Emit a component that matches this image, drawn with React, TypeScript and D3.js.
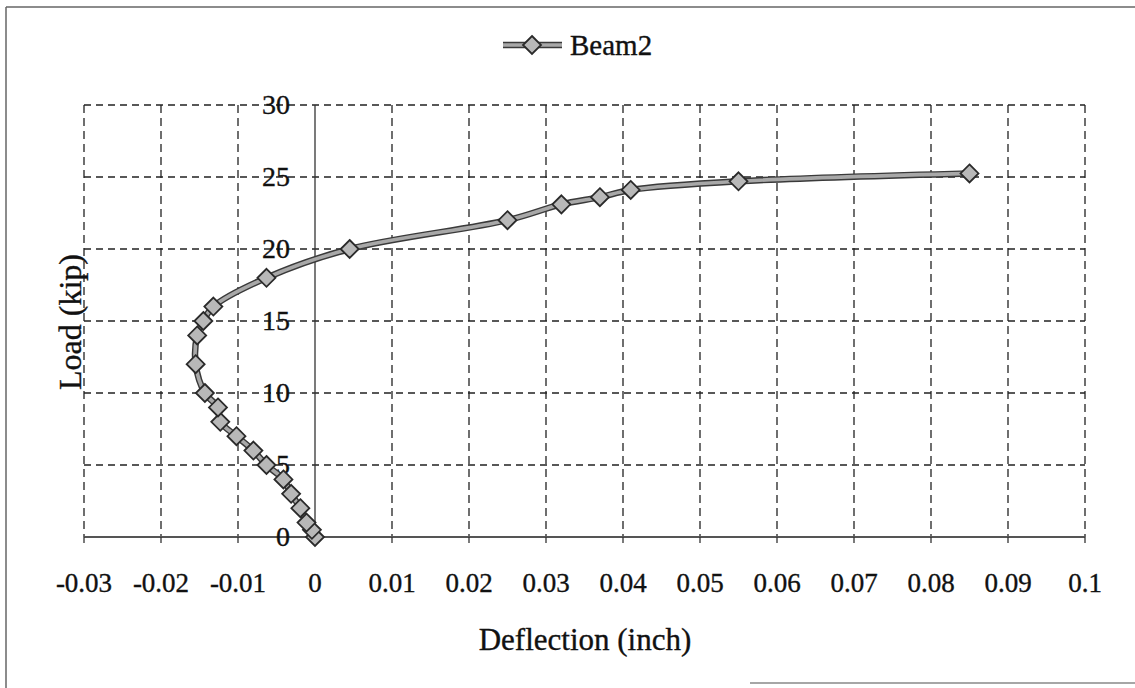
import React from "react";
import * as d3 from "d3";

// Load–deflection record for Beam2
const deflection = [
  0, -0.0004, -0.0011, -0.0019, -0.0031, -0.0041, -0.0063, -0.008, -0.0102,
  -0.0123, -0.0126, -0.0143, -0.0155, -0.0153, -0.0145, -0.0132, -0.0063,
  0.0045, 0.025, 0.032, 0.037, 0.041, 0.055, 0.085,
];
const load = [
  0, 0.5, 1, 2, 3, 4, 5, 6, 7, 8, 9, 10, 12, 14, 15, 16, 18, 20, 22, 23.1,
  23.6, 24.1, 24.7, 25.25,
];

const xTicks = [-0.03, -0.02, -0.01, 0, 0.01, 0.02, 0.03, 0.04, 0.05, 0.06, 0.07, 0.08, 0.09, 0.1];
const xTickLabels = ["-0.03", "-0.02", "-0.01", "0", "0.01", "0.02", "0.03", "0.04", "0.05", "0.06", "0.07", "0.08", "0.09", "0.1"];
const yTicks = [0, 5, 10, 15, 20, 25, 30];

const seriesName = "Beam2";
const xTitle = "Deflection (inch)";
const yTitle = "Load (kip)";

const W = 1135;
const H = 688;
const FONT = "'Liberation Serif', 'Times New Roman', serif";

const x = d3.scaleLinear().domain([-0.03, 0.1]).range([84, 1085]);
const y = d3.scaleLinear().domain([0, 30]).range([537, 105]);

const diamond = (cx: number, cy: number, r: number) =>
  `M${cx},${cy - r}L${cx + r},${cy}L${cx},${cy + r}L${cx - r},${cy}Z`;

const textStyle = { stroke: "#111", strokeWidth: 0.35 };

export default function App() {
  const pts: [number, number][] = deflection.map((d, i) => [x(d), y(load[i])]);
  const line = d3.line().curve(d3.curveCatmullRom.alpha(0.5))(pts) || "";

  return (
    <svg
      width={W}
      height={H}
      style={{ position: "absolute", left: 0, top: 0, background: "#fff" }}
    >
      {/* chart frame */}
      <line x1={6} y1={7} x2={6} y2={H} stroke="#666" strokeWidth={1.5} />
      <line x1={6} y1={7} x2={W} y2={7} stroke="#666" strokeWidth={1.5} />
      <line x1={750} y1={683} x2={W} y2={683} stroke="#888" strokeWidth={1.5} />

      {/* horizontal grid */}
      {yTicks.filter((t) => t > 0).map((t) => (
        <line
          key={"gy" + t}
          x1={x(-0.03)}
          x2={x(0.1)}
          y1={y(t)}
          y2={y(t)}
          stroke="#222"
          strokeWidth={1.3}
          strokeDasharray="7 5"
        />
      ))}
      {/* vertical grid */}
      {xTicks.filter((t) => t !== 0).map((t) => (
        <line
          key={"gx" + t}
          x1={x(t)}
          x2={x(t)}
          y1={y(30)}
          y2={y(0)}
          stroke="#222"
          strokeWidth={1.3}
          strokeDasharray="8 5"
        />
      ))}

      {/* y axis */}
      <line x1={x(0)} x2={x(0)} y1={y(30)} y2={y(0)} stroke="#333" strokeWidth={1.3} />
      {/* x axis */}
      <line x1={x(-0.03)} x2={x(0.1)} y1={y(0)} y2={y(0)} stroke="#555" strokeWidth={2.2} />
      {xTicks.map((t) => (
        <line key={"tx" + t} x1={x(t)} x2={x(t)} y1={y(0)} y2={y(0) + 6} stroke="#333" strokeWidth={1.3} />
      ))}

      {/* tick labels */}
      {xTicks.map((t, i) => (
        <text
          key={"lx" + t}
          x={x(t)}
          y={592}
          textAnchor="middle"
          fontFamily={FONT}
          fontSize={27}
          fill="#111"
          style={textStyle}
        >
          {xTickLabels[i]}
        </text>
      ))}
      {yTicks.map((t) => (
        <text
          key={"ly" + t}
          x={290}
          y={y(t) + 9}
          textAnchor="end"
          fontFamily={FONT}
          fontSize={28}
          fill="#111"
          style={textStyle}
        >
          {t}
        </text>
      ))}

      {/* series */}
      <path d={line} fill="none" stroke="#3a3a3a" strokeWidth={6.5} strokeLinejoin="round" />
      <path d={line} fill="none" stroke="#a8a8a8" strokeWidth={3.6} strokeLinejoin="round" />
      {pts.map(([px, py], i) => (
        <path
          key={"m" + i}
          d={diamond(px, py, 9)}
          fill="#b8b8b8"
          stroke="#2a2a2a"
          strokeWidth={1.8}
        />
      ))}

      {/* legend */}
      <line x1={503} x2={562} y1={45} y2={45} stroke="#3a3a3a" strokeWidth={6.5} />
      <line x1={503} x2={562} y1={45} y2={45} stroke="#a8a8a8" strokeWidth={3.6} />
      <path d={diamond(532, 45, 9)} fill="#b8b8b8" stroke="#2a2a2a" strokeWidth={1.8} />
      <text x={570} y={55} fontFamily={FONT} fontSize={29} fill="#111" style={textStyle}>
        {seriesName}
      </text>

      {/* axis titles */}
      <text x={585} y={650} textAnchor="middle" fontFamily={FONT} fontSize={31} fill="#111" style={textStyle}>
        {xTitle}
      </text>
      <text
        transform={`translate(81,322) rotate(-90)`}
        textAnchor="middle"
        fontFamily={FONT}
        fontSize={32}
        fill="#111"
        style={textStyle}
      >
        {yTitle}
      </text>
    </svg>
  );
}
